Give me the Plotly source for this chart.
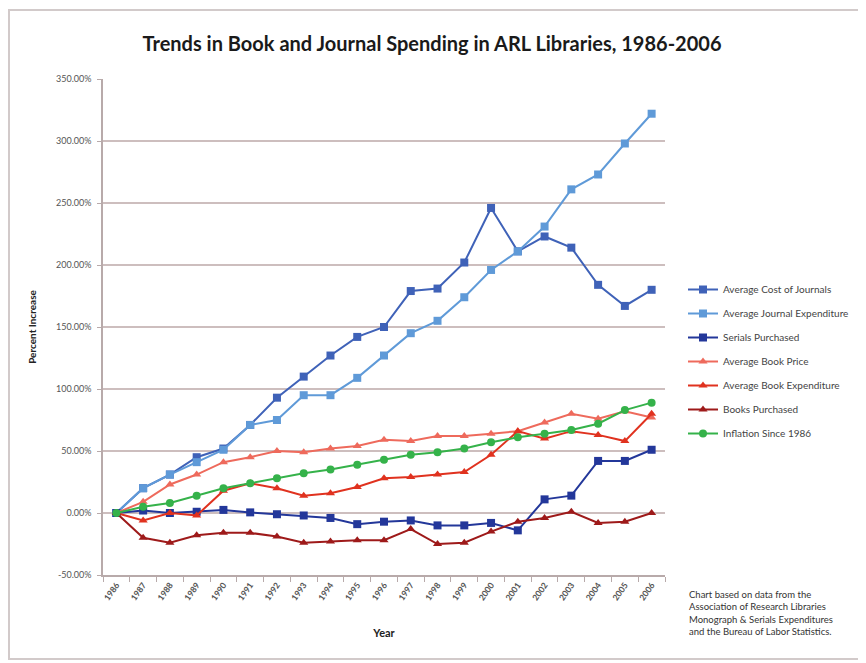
import plotly.graph_objects as go

years = list(range(1986, 2007))
year_labels = [str(y) for y in years]

avg_cost_journals = [0, 20, 31, 45, 52, 71, 93, 110, 127, 142, 150, 179, 181, 202, 246, 211, 223, 214, 184, 167, 180]
avg_journal_exp = [0, 20, 31, 41, 51, 71, 75, 95, 95, 109, 127, 145, 155, 174, 196, 211, 231, 261, 273, 298, 322]
serials_purchased = [0, 2, 0, 1, 2.5, 0.5, -1, -2, -4, -9, -7, -6, -10, -10, -8, -14, 11, 14, 42, 42, 51]
avg_book_price = [0, 9, 23, 31, 41, 45, 50, 49, 52, 54, 59, 58, 62, 62, 64, 66, 73, 80, 76, 82, 77]
avg_book_exp = [0, -6, 0, -2, 18, 24, 20, 14, 16, 21, 28, 29, 31, 33, 47, 66, 60, 66, 63, 58, 80]
books_purchased = [0, -20, -24, -18, -16, -16, -19, -24, -23, -22, -22, -13, -25, -24, -15, -7, -4, 1, -8, -7, 0]
inflation = [0, 5, 8, 14, 20, 24, 28, 32, 35, 39, 43, 47, 49, 52, 57, 61, 64, 67, 72, 83, 89]

y_ticks = [-50, 0, 50, 100, 150, 200, 250, 300, 350]
y_tick_labels = ["-50.00%", "0.00%", "50.00%", "100.00%", "150.00%", "200.00%", "250.00%", "300.00%", "350.00%"]

series = [
    ("Average Cost of Journals", avg_cost_journals, "#3f62b8", "square"),
    ("Average Journal Expenditure", avg_journal_exp, "#5f9ad8", "square"),
    ("Serials Purchased", serials_purchased, "#23379a", "square"),
    ("Average Book Price", avg_book_price, "#ee6a5c", "triangle-up"),
    ("Average Book Expenditure", avg_book_exp, "#e0321f", "triangle-up"),
    ("Books Purchased", books_purchased, "#9e1a1a", "triangle-up"),
    ("Inflation Since 1986", inflation, "#35b24a", "circle"),
]

fig = go.Figure()
for i, (name, vals, color, sym) in enumerate(series):
    fig.add_trace(go.Scatter(
        x=years, y=vals, name=name, mode="lines+markers",
        line=dict(color=color, width=2),
        marker=dict(symbol=sym, size=8, color=color),
        legendgroup=f"g{i}",
    ))

# page offset of the figure inside the browser (default body margin)
OFF = 8
W, H = 866 - OFF, 663 - OFF
# plot area in reference screen pixels
PX0, PX1, PY0, PY1 = 103, 665, 79, 575
L, T = PX0 - OFF, PY0 - OFF
R, B = W - (PX1 - OFF), H - (PY1 - OFF)
pw, ph = PX1 - PX0, PY1 - PY0

def px2x(sx):
    return (sx - PX0) / pw

def px2y(sy):
    return (PY1 - sy) / ph

font_fam = "Lato, 'Open Sans', Arial, sans-serif"

fig.update_layout(
    width=W, height=H,
    margin=dict(l=L, r=R, t=T, b=B, autoexpand=False),
    paper_bgcolor="white", plot_bgcolor="white",
    font=dict(family=font_fam, color="#444"),
    title=dict(text="<b>Trends in Book and Journal Spending in ARL Libraries, 1986-2006</b>",
               x=(432 - OFF) / W, xanchor="center", xref="container",
               y=1 - (44 - OFF) / H, yanchor="middle", yref="container",
               font=dict(size=20, color="#1a1a1a", family=font_fam)),
    showlegend=True,
    legend=dict(x=px2x(683), y=px2y(275), xanchor="left", yanchor="top",
                font=dict(size=10, color="#444", family=font_fam),
                tracegroupgap=5, bgcolor="rgba(0,0,0,0)", itemwidth=30),
    xaxis=dict(
        range=[1985.5, 2006.5], tickmode="array", tickvals=years,
        ticktext=[f"<b>{t}</b>" for t in year_labels],
        tickangle=-55, tickfont=dict(size=8.5, color="#555", family=font_fam),
        showgrid=False, zeroline=False, showline=True, linecolor="#b8aaaa", linewidth=1.5,
        ticks="", minor=dict(ticks="outside", tick0=1985.5, dtick=1, ticklen=5, tickcolor="#b8aaaa", showgrid=False),
        title=dict(text="<b>Year</b>", font=dict(size=11, color="#222", family=font_fam), standoff=28),
    ),
    yaxis=dict(
        range=[-50, 350], tickmode="array", tickvals=y_ticks, ticktext=y_tick_labels,
        tickfont=dict(size=9, color="#555", family=font_fam),
        showgrid=True, gridcolor="#cdbebe", gridwidth=1.5, zeroline=False,
        showline=True, linecolor="#b8aaaa", linewidth=1.5,
        ticks="outside", ticklen=4, tickcolor="#b8aaaa", ticklabelstandoff=4,
        title=dict(text="<b>Percent Increase</b>", font=dict(size=10, color="#222", family=font_fam), standoff=18),
    ),
)

fig.add_annotation(
    text="Chart based on data from the<br>Association of Research Libraries<br>Monograph & Serials Expenditures<br>and the Bureau of Labor Statistics.",
    xref="paper", yref="paper", x=px2x(687), y=px2y(587), xanchor="left", yanchor="top",
    showarrow=False, align="left", font=dict(size=9.5, color="#333", family=font_fam),
)

fig.add_shape(type="rect", xref="paper", yref="paper",
              x0=px2x(9), x1=px2x(861), y0=px2y(659), y1=px2y(10),
              line=dict(color="#d2caca", width=2), fillcolor="rgba(0,0,0,0)", layer="below")

fig.write_html("out.html")
